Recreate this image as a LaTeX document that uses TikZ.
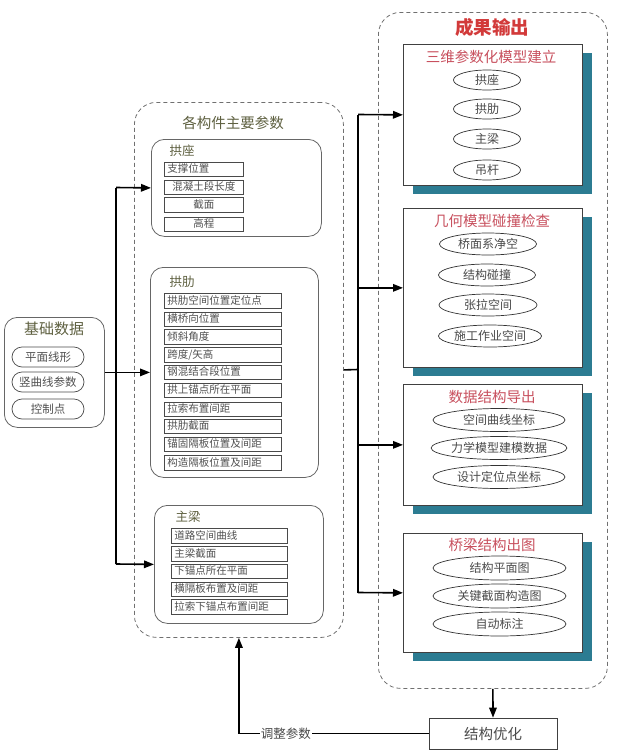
\documentclass[tikz,border=0pt]{standalone}
\usepackage{fontspec}
\setmainfont{Noto Sans CJK SC}
\usetikzlibrary{arrows.meta,shapes.geometric}
\definecolor{dashc}{HTML}{707070}
\definecolor{panelc}{HTML}{666666}
\definecolor{itemc}{HTML}{4A4A4A}
\definecolor{txtc}{HTML}{505050}
\definecolor{olivec}{HTML}{5E6040}
\definecolor{redt}{HTML}{D23A3A}
\definecolor{pinkt}{HTML}{C8505E}
\definecolor{tealc}{HTML}{2C7C92}
\begin{document}
\begin{tikzpicture}[x=1pt,y=-1pt,
  conn/.style={line width=1.6pt, black},
  arr/.style={line width=1.6pt, black, -{Triangle[length=10pt,width=7.5pt]}},
  grp/.style={draw=dashc, dash pattern=on 4pt off 3pt, rounded corners=22pt, line width=0.8pt, inner sep=0pt, anchor=north west},
  panel/.style={draw=panelc, rounded corners=13pt, line width=0.8pt, inner sep=0pt, anchor=north west},
  gtitle/.style={text=olivec, font=\fontsize{14.5}{16}\selectfont, inner sep=0pt},
  ptitle/.style={text=olivec, font=\fontsize{12.5}{14}\selectfont, inner sep=0pt},
  item/.style={draw=itemc, line width=0.7pt, anchor=west, inner xsep=3pt, inner ysep=0pt, text height=8pt, text depth=2pt, minimum height=14.5pt, align=left, text=txtc, font=\fontsize{10.5}{12}\selectfont},
  pill/.style={draw=itemc, line width=0.7pt, rounded corners=10pt, minimum width=72pt, minimum height=20pt, inner sep=0pt, text=txtc, font=\fontsize{11.5}{13}\selectfont},
  shadowbox/.style={fill=tealc, inner sep=0pt, anchor=north west, minimum width=179pt},
  outbox/.style={draw=black!75, fill=white, line width=0.7pt, inner sep=0pt, anchor=north west, minimum width=179pt},
  otitle/.style={text=pinkt, font=\fontsize{14.5}{16}\selectfont, inner sep=0pt},
  oval/.style={ellipse, draw=black!80, line width=0.7pt, inner sep=0pt, text=itemc, font=\fontsize{12}{14}\selectfont},
  optbox/.style={draw=black!75, line width=0.7pt, minimum width=128pt, minimum height=31pt, inner sep=0pt, text=itemc, font=\fontsize{14.5}{16}\selectfont}
]
\useasboundingbox (0,0) rectangle (623,755);

% ---------- basic data ----------
\node[panel, minimum width=100pt, minimum height=110pt] (jc) at (4,317) {};
\node[gtitle, font=\fontsize{15}{17}\selectfont] (jct) at (54,329) {基础数据};
\node[pill] (jc1) at (48,357) {平面线形};
\node[pill] (jc2) at (48,382) {竖曲线参数};
\node[pill] (jc3) at (48,409) {控制点};

% ---------- component parameters ----------
\node[grp, minimum width=209pt, minimum height=535pt] (g1) at (134,102) {};
\node[gtitle] (g1t) at (233,123) {各构件主要参数};

\node[panel, minimum width=170pt, minimum height=97pt] (gz) at (151,139) {};
\node[ptitle] (gzt) at (182,151) {拱座};
\node[item, text width=73pt] (gz1) at (164,169.5) {支撑位置};
\node[item, text width=73pt, align=center] (gz2) at (164,187.5) {混凝土段长度};
\node[item, text width=73pt, align=center] (gz3) at (164,205) {截面};
\node[item, text width=73pt, align=center] (gz4) at (164,224.5) {高程};

\node[panel, minimum width=168pt, minimum height=210pt] (gl) at (150,267) {};
\node[ptitle] (glt) at (182,282) {拱肋};
\node[item, text width=111pt] (gl1) at (164,301) {拱肋空间位置定位点};
\node[item, text width=111pt] (gl2) at (164,319.5) {横桥向位置};
\node[item, text width=111pt] (gl3) at (164,337) {倾斜角度};
\node[item, text width=111pt] (gl4) at (164,355) {跨度/矢高};
\node[item, text width=111pt] (gl5) at (164,372.5) {钢混结合段位置};
\node[item, text width=111pt] (gl6) at (164,390.5) {拱上锚点所在平面};
\node[item, text width=111pt] (gl7) at (164,409.5) {拉索布置间距};
\node[item, text width=111pt] (gl8) at (164,426.5) {拱肋截面};
\node[item, text width=111pt] (gl9) at (164,444.5) {锚固隔板位置及间距};
\node[item, text width=111pt] (gl10) at (164,463) {构造隔板位置及间距};

\node[panel, minimum width=169pt, minimum height=118pt] (zl) at (154,505) {};
\node[ptitle] (zlt) at (188,517) {主梁};
\node[item, text width=110pt] (zl1) at (171,536) {道路空间曲线};
\node[item, text width=110pt] (zl2) at (171,554) {主梁截面};
\node[item, text width=110pt] (zl3) at (171,571.5) {下锚点所在平面};
\node[item, text width=110pt] (zl4) at (171,589.5) {横隔板布置及间距};
\node[item, text width=110pt] (zl5) at (171,607) {拉索下锚点布置间距};

% ---------- outputs ----------
\node[grp, minimum width=229pt, minimum height=676pt] (g2) at (378,12) {};
\node[text=redt, font=\fontsize{18.5}{20}\bfseries, inner sep=0pt] (g2t) at (492,27) {成果输出};

\node[shadowbox, minimum height=141pt] (b1s) at (412.5,53) {};
\node[outbox, minimum height=141pt] (b1) at (403,44) {};
\node[otitle] (b1t) at (491,57) {三维参数化模型建立};
\node[oval, minimum width=67pt, minimum height=20pt] (e11) at (487,80) {拱座};
\node[oval, minimum width=67pt, minimum height=20pt] (e12) at (487,109) {拱肋};
\node[oval, minimum width=67pt, minimum height=20pt] (e13) at (487,139) {主梁};
\node[oval, minimum width=67pt, minimum height=20pt] (e14) at (487,170) {吊杆};

\node[shadowbox, minimum height=159pt] (b2s) at (412.5,217) {};
\node[outbox, minimum height=159pt] (b2) at (403,208) {};
\node[otitle] (b2t) at (492,221) {几何模型碰撞检查};
\node[oval, minimum width=97pt, minimum height=22pt] (e21) at (488,244) {桥面系净空};
\node[oval, minimum width=97pt, minimum height=22pt] (e22) at (487,275) {结构碰撞};
\node[oval, minimum width=98pt, minimum height=22pt] (e23) at (488,305) {张拉空间};
\node[oval, minimum width=103pt, minimum height=22pt] (e24) at (490,336) {施工作业空间};

\node[shadowbox, minimum height=121pt] (b3s) at (412.5,393) {};
\node[outbox, minimum height=121pt] (b3) at (403,384) {};
\node[otitle] (b3t) at (492,397) {数据结构导出};
\node[oval, minimum width=132pt, minimum height=23pt] (e31) at (499,420) {空间曲线坐标};
\node[oval, minimum width=132pt, minimum height=23pt] (e32) at (499,448) {力学模型建模数据};
\node[oval, minimum width=132pt, minimum height=23pt] (e33) at (499,477) {设计定位点坐标};

\node[shadowbox, minimum height=119pt] (b4s) at (412.5,542) {};
\node[outbox, minimum height=119pt] (b4) at (403,533) {};
\node[otitle] (b4t) at (492,545) {桥梁结构出图};
\node[oval, minimum width=133pt, minimum height=24pt] (e41) at (499.5,568) {结构平面图};
\node[oval, minimum width=133pt, minimum height=24pt] (e42) at (499.5,596) {关键截面构造图};
\node[oval, minimum width=133pt, minimum height=24pt] (e43) at (499.5,624) {自动标注};

% ---------- optimisation ----------
\node[optbox] (opt) at (493,733.5) {结构优化};

% ---------- connectors ----------
\coordinate (vLt) at (116,187.5);
\coordinate (vLb) at (116,564);
\draw[conn] (vLt) -- (vLb);
\draw[arr] (vLt) -- (gz.west);
\draw[arr] (jc.east) -- (gl.west);
\draw[arr] (vLb) -- (zl.west);

\coordinate (vRj) at (358,369.5);
\coordinate (vRt) at (358,114.5);
\coordinate (vRb) at (358,592.5);
\draw[conn] (g1.east) -- (vRj);
\draw[conn] (vRt) -- (vRb);
\draw[arr] (vRt) -- (b1.west);
\draw[arr] (vRt |- b2.west) -- (b2.west);
\draw[arr] (vRt |- b3.west) -- (b3.west);
\draw[arr] (vRb) -- (b4.west);

\draw[arr] (g2.south) -- (opt.north);
\draw[arr] (opt.west) -| node[pos=0.376, fill=white, inner xsep=1pt, inner ysep=1pt, text=itemc, font=\fontsize{12.5}{14}\selectfont] (adj) {调整参数} (g1.south);
\end{tikzpicture}
\end{document}
